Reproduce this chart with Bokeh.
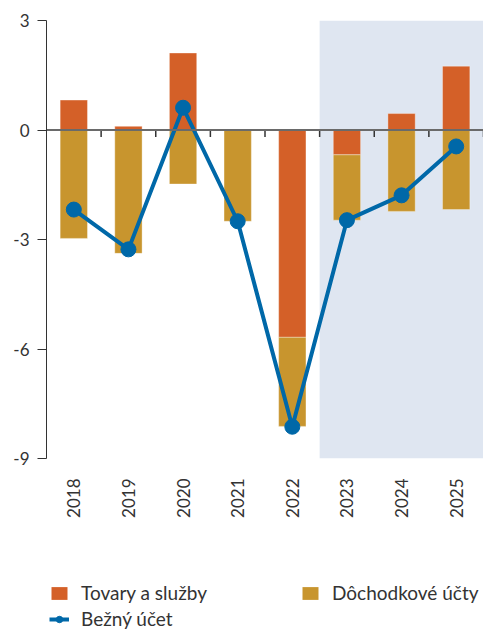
import math
from bokeh.plotting import figure
from bokeh.layouts import column
from bokeh.models import (ColumnDataSource, FixedTicker, BoxAnnotation, Span,
                          Legend, LegendItem)
from bokeh.embed import file_html
from bokeh.resources import INLINE

# ---- data ----
categories = ["2018", "2019", "2020", "2021", "2022", "2023", "2024", "2025"]
tovary = [0.82, 0.10, 2.11, 0.0, -5.68, -0.68, 0.45, 1.75]
dochodkove = [-2.97, -3.38, -1.48, -2.50, -2.44, -1.79, -2.23, -2.18]
bezny = [-2.18, -3.27, 0.61, -2.50, -8.13, -2.47, -1.79, -0.45]
y_ticks = [3, 0, -3, -6, -9]
y_tick_labels = ["3", "0", "-3", "-6", "-9"]
forecast_start = "2023"
series_names = ["Tovary a služby", "Dôchodkové účty", "Bežný účet"]

ORANGE = "#D46028"
GOLD = "#C8952E"
BLUE = "#0068A8"
SHADE = "#DFE6F1"
TEXT = "#333333"
FONT = "Lato"

n = len(categories)
xs = [i + 0.5 for i in range(n)]

# stacking: positive and negative stacks separately
t_bottom = [0.0] * n
t_top = tovary
d_top = [t if t < 0 else 0.0 for t in tovary]
d_bottom = [d_top[i] + dochodkove[i] for i in range(n)]

src = ColumnDataSource(dict(x=xs, t_bottom=t_bottom, t_top=t_top,
                            d_top=d_top, d_bottom=d_bottom, bezny=bezny))

p = figure(width=483, height=520, x_range=(0, n),
           y_range=(min(y_ticks), max(y_ticks)),
           output_backend="svg", toolbar_location=None,
           min_border_left=46, min_border_right=0, min_border_top=20,
           min_border_bottom=62)
p.outline_line_color = None
p.xgrid.visible = False
p.ygrid.visible = False
p.background_fill_color = "white"

# forecast shading
p.add_layout(BoxAnnotation(left=categories.index(forecast_start), fill_color=SHADE,
                           fill_alpha=1.0, line_color=None, level="underlay"))

bar_style = dict(width=0.5, line_color="white", line_alpha=0.35, line_width=1)
r_t = p.vbar(x="x", bottom="t_bottom", top="t_top", source=src,
             fill_color=ORANGE, **bar_style)
r_d = p.vbar(x="x", bottom="d_bottom", top="d_top", source=src,
             fill_color=GOLD, **bar_style)

# zero line and category boundary ticks
zero = Span(location=0, dimension="width", line_color="#6a6a6a", line_width=2,
            level="glyph")
p.add_layout(zero)
bounds = list(range(1, n + 1))
p.segment(x0=bounds, x1=bounds, y0=[0] * n, y1=[-0.19] * n,
          line_color=TEXT, line_width=1.5)

r_l = p.line(x="x", y="bezny", source=src, line_color=BLUE, line_width=4)
r_s = p.scatter(x="x", y="bezny", source=src, size=15, fill_color=BLUE,
                line_color=BLUE)

# y axis
ya = p.yaxis[0]
ya.ticker = FixedTicker(ticks=y_ticks)
ya.major_label_overrides = {t: l for t, l in zip(y_ticks, y_tick_labels)}
ya.axis_line_color = TEXT
ya.major_tick_line_color = TEXT
ya.major_tick_out = 9
ya.major_tick_in = 0
ya.minor_tick_line_color = None
ya.major_label_standoff = 8
ya.major_label_text_font = FONT
ya.major_label_text_font_size = "17px"
ya.major_label_text_color = TEXT

# x axis (labels only)
xa = p.xaxis[0]
xa.ticker = FixedTicker(ticks=xs)
xa.major_label_overrides = {x: c for x, c in zip(xs, categories)}
xa.major_label_orientation = math.pi / 2
xa.axis_line_color = None
xa.major_tick_line_color = None
xa.minor_tick_line_color = None
xa.major_label_standoff = 14
xa.major_label_text_font = FONT
xa.major_label_text_font_size = "17px"
xa.major_label_text_color = TEXT

# ---- legend strip (separate figure below the chart, frames aligned) ----
lp = figure(width=483, height=112, output_backend="svg", toolbar_location=None,
            x_axis_location=None, y_axis_location=None,
            min_border_left=0, min_border_right=0, min_border_top=0,
            min_border_bottom=0)
lp.outline_line_color = None
lp.grid.visible = False
nan = float("nan")
lsrc = ColumnDataSource(dict(x=[nan], y=[nan], top=[nan], bottom=[nan]))
k_t = lp.vbar(x="x", top="top", bottom="bottom", source=lsrc, fill_color=ORANGE,
              width=0.5, line_color=None)
k_d = lp.vbar(x="x", top="top", bottom="bottom", source=lsrc, fill_color=GOLD,
              width=0.5, line_color=None)
k_l = lp.line(x="x", y="y", source=lsrc, line_color=BLUE, line_width=4)
k_s = lp.scatter(x="x", y="y", source=lsrc, size=13, fill_color=BLUE,
                 line_color=BLUE)


def style_legend(lg):
    lg.glyph_width = 20
    lg.glyph_height = 16
    lg.label_standoff = 12
    lg.label_height = 16
    lg.padding = 0
    lg.margin = 0
    lg.border_line_color = None
    lg.background_fill_alpha = 0
    lg.label_text_font = FONT
    lg.label_text_font_size = "19px"
    lg.label_text_color = TEXT


legend_a = Legend(items=[LegendItem(label=series_names[0], renderers=[k_t]),
                         LegendItem(label=series_names[1], renderers=[k_d])],
                  orientation="horizontal", location=(3, 28))
style_legend(legend_a)
legend_a.label_width = 146
legend_a.spacing = 73
legend_b = Legend(items=[LegendItem(label=series_names[2], renderers=[k_l, k_s])],
                  location=(3, 2))
style_legend(legend_b)
lp.add_layout(legend_a)
lp.add_layout(legend_b)

layout = column(p, lp, spacing=0)
open("out.html", "w").write(file_html(layout, INLINE))
